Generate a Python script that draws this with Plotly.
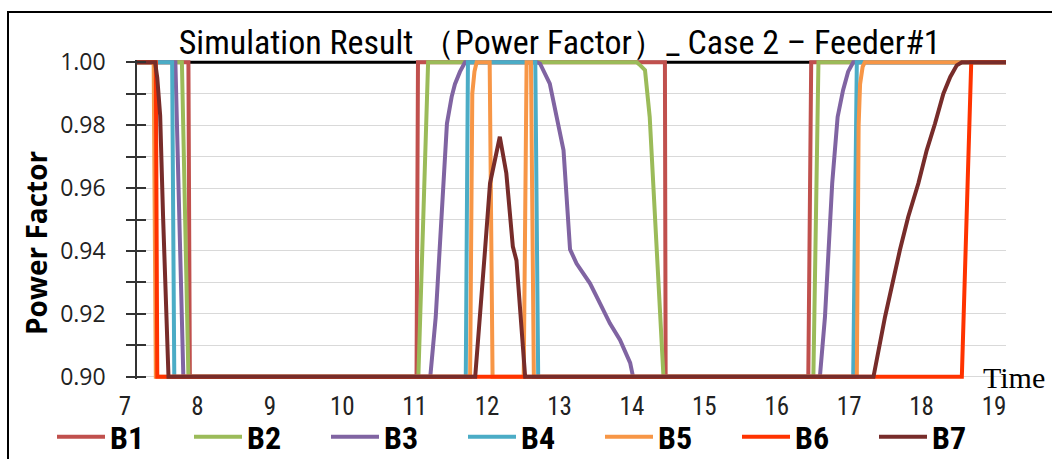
import plotly.graph_objects as go

# Power factor time series per bus (hour of day vs. PF, clipped to the 0.90 floor)
b1_t = [7.0, 7.71, 7.73, 10.86, 10.88, 14.29, 14.30, 16.27, 16.31, 19.0]
b1_pf = [1.0, 1.0, 0.90, 0.90, 1.0, 1.0, 0.90, 0.90, 1.0, 1.0]

b2_t = [7.0, 7.62, 7.71, 10.885, 11.02, 13.90, 13.95, 14.015, 14.08, 14.13, 14.175, 14.22, 14.27, 16.34, 16.41, 19.0]
b2_pf = [1.0, 1.0, 0.90, 0.90, 1.0, 1.0, 0.999, 0.9975, 0.9826, 0.9615, 0.9403, 0.919, 0.90, 0.90, 1.0, 1.0]

b3_t = [7.0, 7.53, 7.64, 11.05, 11.125, 11.18, 11.23, 11.28, 11.345, 11.39, 11.46, 11.53,
        12.52, 12.565, 12.70, 12.817, 12.89, 12.93, 12.98, 13.07, 13.255, 13.39, 13.53, 13.67, 13.81, 13.85,
        16.43, 16.50, 16.545, 16.60, 16.675, 16.75, 16.82, 16.89, 19.0]
b3_pf = [1.0, 1.0, 0.90, 0.90, 0.919, 0.940, 0.9615, 0.9805, 0.989, 0.993, 0.997, 1.0,
         1.0, 0.9996, 0.9932, 0.9805, 0.972, 0.958, 0.9405, 0.936, 0.9297, 0.9235, 0.917, 0.9117, 0.9044, 0.90,
         0.90, 0.919, 0.940, 0.9615, 0.9826, 0.9911, 0.997, 1.0, 1.0]

b4_t = [7.0, 7.485, 7.515, 11.54, 11.57, 12.50, 12.54, 16.89, 16.94, 19.0]
b4_pf = [1.0, 1.0, 0.90, 0.90, 1.0, 1.0, 0.90, 0.90, 1.0, 1.0]

b5_t = [7.0, 7.23, 7.26, 11.60, 11.63, 11.66, 11.69, 11.87, 11.91, 12.34, 12.38, 12.44, 12.48,
        16.94, 16.965, 16.985, 17.02, 17.05, 19.0]
b5_pf = [1.0, 1.0, 0.90, 0.90, 0.99, 0.997, 1.0, 1.0, 0.90, 0.90, 1.0, 1.0, 0.90,
         0.90, 0.98, 0.993, 0.9985, 1.0, 1.0]

b6_t = [7.0, 7.26, 7.28, 18.39, 18.52, 19.0]
b6_pf = [1.0, 1.0, 0.90, 0.90, 1.0, 1.0]

b7_t = [7.0, 7.25, 7.28, 7.32, 7.36, 7.41, 7.435,
        11.67, 11.74, 11.805, 11.875, 11.92, 12.01, 12.10, 12.19, 12.24, 12.36,
        17.17, 17.33, 17.535, 17.65, 17.79, 17.905, 18.02, 18.135, 18.23, 18.32, 18.39, 19.0]
b7_pf = [1.0, 1.0, 0.995, 0.983, 0.951, 0.919, 0.90,
         0.90, 0.919, 0.940, 0.9615, 0.9668, 0.9763, 0.9647, 0.9414, 0.937, 0.90,
         0.90, 0.9191, 0.9403, 0.9509, 0.9615, 0.972, 0.9805, 0.990, 0.9953, 0.999, 1.0, 1.0]

bus_names = ["B1", "B2", "B3", "B4", "B5", "B6", "B7"]
bus_colors = ["#C0504D", "#9BBB59", "#8064A2", "#4BACC6", "#F79646", "#FF3300", "#772C2A"]
series = [(b1_t, b1_pf), (b2_t, b2_pf), (b3_t, b3_pf), (b4_t, b4_pf),
          (b5_t, b5_pf), (b6_t, b6_pf), (b7_t, b7_pf)]

x_ticks = list(range(7, 20))
y_ticks = [round(0.90 + 0.01 * i, 2) for i in range(11)]
y_ticktext = [f"{v:.2f}" if i % 2 == 0 else "" for i, v in enumerate(y_ticks)]

NARROW = "Liberation Sans Narrow, Arial Narrow, Roboto Condensed, sans-serif"

fig = go.Figure()
for name, color, (t, pf) in zip(bus_names, bus_colors, series):
    fig.add_trace(go.Scatter(x=t, y=pf, name=name, mode="lines",
                             line=dict(color=color, width=4), hoverinfo="skip"))

# helper trace so the overlaid tick axis is rendered
fig.add_trace(go.Scatter(x=[7.0], y=[1.0], yaxis="y2", mode="lines",
                         showlegend=False, hoverinfo="skip", line=dict(width=0)))

y_range = [0.8993, 1.0007]

fig.update_layout(
    width=1052, height=459,
    margin=dict(l=137, r=46, t=60, b=80, autoexpand=False),
    paper_bgcolor="white", plot_bgcolor="white",
    title=dict(text="Simulation Result （Power Factor）_ Case 2 – Feeder#1",
               x=0.532, y=0.909, xanchor="center", yanchor="middle",
               font=dict(family=NARROW, size=34, color="black")),
    xaxis=dict(range=[7, 19], tickvals=x_ticks, ticktext=[str(v) for v in x_ticks],
               showgrid=False, zeroline=False, showline=False, ticks="",
               ticklabelshift=-12, ticklabelstandoff=10,
               tickfont=dict(family=NARROW, size=25, color="#222")),
    yaxis=dict(range=y_range, tickvals=y_ticks, ticktext=y_ticktext,
               showgrid=True, gridcolor="#D9D9D9", gridwidth=1, zeroline=False,
               showline=True, linecolor="#333", linewidth=1.5,
               ticks="outside", ticklen=9, tickcolor="#333", tickwidth=1.5,
               ticklabelstandoff=16,
               tickfont=dict(family="Open Sans, sans-serif", size=23, color="#222")),
    yaxis2=dict(range=y_range, overlaying="y", tickvals=y_ticks, showticklabels=False,
                showgrid=False, zeroline=False, showline=False,
                ticks="inside", ticklen=9, tickcolor="#333", tickwidth=1.5),
    legend=dict(orientation="h", xref="paper", yref="paper",
                x=(52 - 137) / 869, xanchor="left", y=(379 - 437) / 319, yanchor="middle",
                entrywidth=74, entrywidthmode="pixels", itemwidth=48,
                font=dict(family=NARROW, size=32, color="black", weight="bold"),
                bgcolor="rgba(0,0,0,0)"),
    showlegend=True,
)

# black line along the 1.00 edge of the plot area
fig.add_shape(type="line", xref="x", yref="y", x0=7, x1=19, y0=1.0, y1=1.0,
              line=dict(color="black", width=3), layer="between")

# chart frame
fig.add_shape(type="rect", xref="paper", yref="paper",
              x0=(8 - 137) / 869, x1=(1070 - 137) / 869,
              y0=(379 - 480) / 319, y1=(379 - 12) / 319,
              line=dict(color="black", width=2), fillcolor="rgba(0,0,0,0)", layer="above")

fig.add_annotation(text="Power Factor", xref="paper", yref="paper",
                   x=(36 - 137) / 869, y=(379 - 243) / 319, textangle=-90,
                   showarrow=False, xanchor="center", yanchor="middle",
                   font=dict(family="Open Sans, sans-serif", size=28, color="black", weight="bold"))

fig.add_annotation(text="Time", xref="paper", yref="paper",
                   x=(981 - 137) / 869, y=(379 - 377) / 319,
                   showarrow=False, xanchor="left", yanchor="middle",
                   font=dict(family="Liberation Serif, Times New Roman, serif", size=30, color="black"))

fig.write_html("out.html")
